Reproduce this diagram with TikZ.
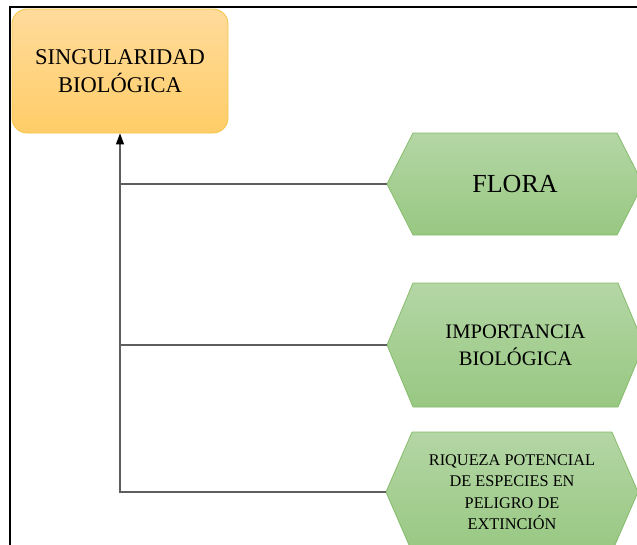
\documentclass[tikz,border=0pt]{standalone}
\usepackage{fontspec}
\setmainfont{Liberation Serif}
\usetikzlibrary{arrows.meta,shapes.symbols}
\definecolor{rootTop}{HTML}{FFDB9B}
\definecolor{rootBot}{HTML}{FFCD68}
\definecolor{rootLine}{HTML}{F6C446}
\definecolor{leafTop}{HTML}{B4D6A5}
\definecolor{leafBot}{HTML}{98C882}
\definecolor{leafLine}{HTML}{86BC6C}
\definecolor{linkGray}{HTML}{5E5E5E}

\begin{document}
\begin{tikzpicture}[
  x=1pt,y=-1pt,
  rootbox/.style={rectangle,rounded corners=15pt,draw=rootLine,line width=0.8pt,
    top color=rootTop,bottom color=rootBot,minimum width=216pt,minimum height=124pt,
    align=center,font=\fontsize{22.5}{28.5}\selectfont},
  leaf/.style={signal,signal to=west and east,draw=leafLine,line width=0.8pt,
    top color=leafTop,bottom color=leafBot,align=center,inner sep=0pt},
  link/.style={draw=linkGray,line width=1.3pt},
  >={Triangle[length=11pt,width=8pt,color=black]}
]
\clip (0,0) rectangle (637,544);
% frame
\draw[line width=2pt] (10,7) rectangle (660,570);

\node[rootbox] (sing) at (120,71) {SINGULARIDAD\\BIOLÓGICA};

\node[leaf,minimum width=256pt,minimum height=102pt,signal pointer angle=126,
  font=\fontsize{26}{30}\selectfont] (flora) at (515,184) {FLORA};
\node[leaf,minimum width=257pt,minimum height=124pt,signal pointer angle=134.5,
  font=\fontsize{20.6}{27}\selectfont] (impo) at (515.5,345) {IMPORTANCIA\\BIOLÓGICA};
\node[leaf,minimum width=252pt,minimum height=120pt,signal pointer angle=133,
  font=\fontsize{16.3}{21.5}\selectfont] (riq) at (512,492)
  {RIQUEZA POTENCIAL\\DE ESPECIES EN\\PELIGRO DE\\EXTINCIÓN};

% connectors
\draw[link] (flora.west) -- (flora.west -| sing.south);
\draw[link] (impo.west) -- (impo.west -| sing.south);
\draw[link,->] (riq.west) -| (sing.south);
\end{tikzpicture}
\end{document}
